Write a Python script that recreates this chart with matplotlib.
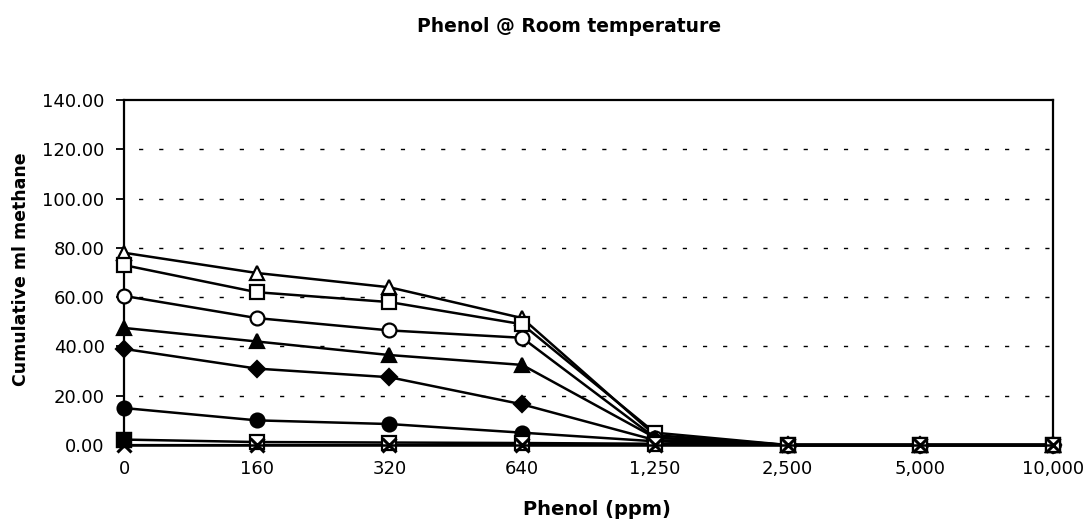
import matplotlib.pyplot as plt

plt.rcParams['font.family'] = ['DejaVu Sans']

# categorias do eixo x (espaçamento categórico, como no Excel)
doses = ['0', '160', '320', '640', '1,250', '2,500', '5,000', '10,000']

# metano acumulado (ml) por série
tri_aberto = [78, 69.8, 64, 51.5, 4, 0, 0, 0]
quad_aberto = [73, 62, 58, 49, 5, 0, 0, 0]
circ_aberto = [60.5, 51.5, 46.5, 43.5, 3, 0, 0, 0]
tri_cheio = [47.5, 42, 36.5, 32.5, 3, 0, 0, 0]
losango = [39, 31, 27.5, 16.5, 2, 0, 0, 0]
circ_cheio = [15, 10, 8.5, 5, 1.5, 0, 0, 0]
quad_cheio = [2.2, 1.2, 1.0, 0.8, 0.5, 0, 0, 0]
cruz = [0, 0, 0, 0, 0, 0, 0, 0]

series = [
    (tri_aberto, '^', 'white'),
    (quad_aberto, 's', 'white'),
    (circ_aberto, 'o', 'white'),
    (tri_cheio, '^', 'black'),
    (losango, 'D', 'black'),
    (circ_cheio, 'o', 'black'),
]

fig = plt.figure(figsize=(10.86, 5.26), dpi=100)
ax = fig.add_axes([0.1142, 0.154, 0.8554, 0.6559])

x = list(range(len(doses)))
for valores, marcador, cor in series:
    ms = 8.5 if marcador == 'D' else 10
    ax.plot(x, valores, color='black', lw=1.8, marker=marcador, ms=ms,
            markerfacecolor=cor, markeredgecolor='black', mew=1.6,
            clip_on=False, zorder=3)

# quadrado: cheio só no primeiro ponto, depois aparece vazado sob o X
ax.plot(x, quad_cheio, color='black', lw=1.8, marker='s', ms=10,
        markerfacecolor='white', markeredgecolor='black', mew=1.6,
        clip_on=False, zorder=3)
ax.plot(x[:1], quad_cheio[:1], ls='none', marker='s', ms=10,
        markerfacecolor='black', markeredgecolor='black', mew=1.6,
        clip_on=False, zorder=3)
ax.plot(x, cruz, color='black', lw=1.8, marker='x', ms=10, mew=2.2,
        clip_on=False, zorder=4)

ax.set_xlim(0, len(doses) - 1)
ax.set_ylim(0, 140)
ax.set_xticks(x)
ax.set_xticklabels(doses, fontsize=13)
ax.set_yticks(range(0, 141, 20))
ax.set_yticklabels([f'{v:.2f}' for v in range(0, 141, 20)], fontsize=13)
ax.tick_params(axis='x', length=0, pad=11)
ax.tick_params(axis='y', length=6, width=1.3, direction='out', pad=8)

for v in range(20, 140, 20):
    ax.axhline(v, color='black', lw=1.0, linestyle=(4, (3, 11.5)), zorder=1)

for lado in ax.spines.values():
    lado.set_linewidth(1.6)

fig.text(0.55, 0.031, 'Phenol (ppm)', fontsize=14, weight='bold',
         ha='center', va='center')
fig.text(0.019, 0.489, 'Cumulative ml methane', fontsize=12.5, weight='bold',
         ha='center', va='center', rotation=90)
fig.text(0.524, 0.949, 'Phenol @ Room temperature', fontsize=13.5,
         weight='bold', ha='center', va='center')

plt.savefig('out.png', dpi=100)
plt.close()
